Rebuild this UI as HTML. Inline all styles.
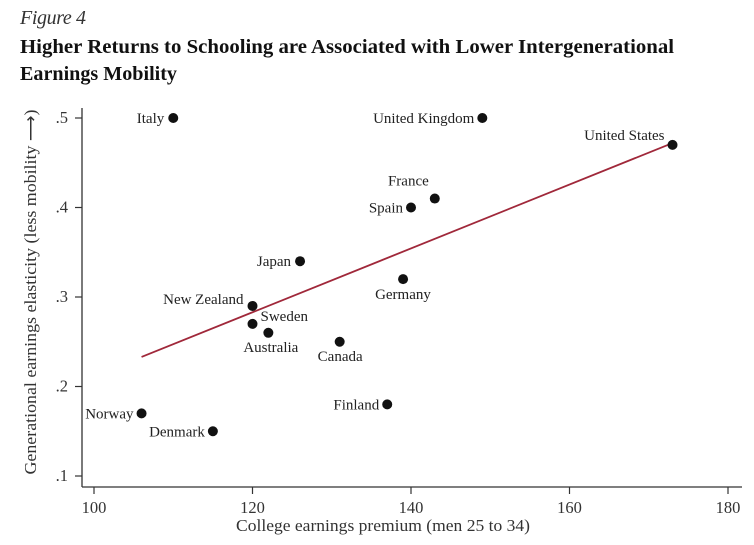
<!DOCTYPE html>
<html><head><meta charset="utf-8"><style>
html,body{margin:0;padding:0;background:#fff;}
svg{display:block;font-family:"Liberation Serif",serif;}
</style></head><body>
<svg width="754" height="545" viewBox="0 0 754 545">
<text x="20" y="24" font-size="20" font-style="italic" fill="#333" textLength="66">Figure 4</text>
<text x="20" y="53" font-size="20" font-weight="bold" fill="#111" textLength="654" lengthAdjust="spacingAndGlyphs">Higher Returns to Schooling are Associated with Lower Intergenerational</text>
<text x="20" y="80" font-size="20" font-weight="bold" fill="#111" textLength="157" lengthAdjust="spacingAndGlyphs">Earnings Mobility</text>
<g id="axes"></g>
<g id="marks"></g>
<text x="383" y="531" font-size="16.5" text-anchor="middle" fill="#333" textLength="294" lengthAdjust="spacingAndGlyphs">College earnings premium (men 25 to 34)</text>
<text transform="translate(36,292) rotate(-90)" font-size="16.5" text-anchor="middle" fill="#333" textLength="365" lengthAdjust="spacingAndGlyphs">Generational earnings elasticity (less mobility ⟶)</text>
</svg>
<script>
const countries=["Italy","United Kingdom","United States","France","Spain","Japan","Germany","New Zealand","Sweden","Australia","Canada","Finland","Norway","Denmark"];
const premium=[110,149,173,143,140,126,139,120,120,122,131,137,106,115];
const elasticity=[0.50,0.50,0.47,0.41,0.40,0.34,0.32,0.29,0.27,0.26,0.25,0.18,0.17,0.15];
const xTicks=[100,120,140,160,180];
const yTicks=[0.1,0.2,0.3,0.4,0.5];
const yTickLabels=[".1",".2",".3",".4",".5"];
const fitX=[106,173];
const fitY=[0.233,0.472];
const labelPos={"Italy":[-9,5,"end"],"United Kingdom":[-8,5,"end"],"United States":[-8,-5,"end"],"France":[-6,-13,"end"],"Spain":[-8,5,"end"],"Japan":[-9,5,"end"],"Germany":[-28,20,"start"],"New Zealand":[-9,-2,"end"],"Sweden":[8,-3,"start"],"Australia":[-25,19,"start"],"Canada":[-22,19,"start"],"Finland":[-8,5,"end"],"Norway":[-8,5,"end"],"Denmark":[-8,5,"end"]};
const NS="http://www.w3.org/2000/svg";
const X=v=>94+(v-100)*7.925;
const Y=v=>476-(v-0.1)*895;
function mk(tag,attrs,parent,text){const e=document.createElementNS(NS,tag);for(const k in attrs)e.setAttribute(k,attrs[k]);if(text!==undefined)e.textContent=text;parent.appendChild(e);return e;}
const ax=document.getElementById('axes'),mg=document.getElementById('marks');
let l=mk('line',{x1:82,y1:108,x2:82,y2:487,stroke:'#333','stroke-width':1.3},ax);


l=mk('line',{x1:82,y1:487,x2:742,y2:487,stroke:'#333','stroke-width':1.3},ax);


xTicks.forEach(v=>{const t=mk('line',{x1:X(v),y1:487,x2:X(v),y2:494,stroke:'#333','stroke-width':1.2},ax);


const tx=mk('text',{x:X(v),y:513,'font-size':16.5,'text-anchor':'middle',fill:'#333'},ax,String(v));

});
yTicks.forEach((v,i)=>{const t=mk('line',{x1:75,y1:Y(v),x2:82,y2:Y(v),stroke:'#333','stroke-width':1.2},ax);


const tx=mk('text',{x:68,y:Y(v)+5,'font-size':16.5,'text-anchor':'end',fill:'#333'},ax,yTickLabels[i]);

});
const fl=mk('line',{x1:X(fitX[0]),y1:Y(fitY[0]),x2:X(fitX[1]),y2:Y(fitY[1]),stroke:'#a0283a','stroke-width':1.8},mg);


countries.forEach((c,i)=>{const cx=X(premium[i]),cy=Y(elasticity[i]);
const p=mk('circle',{cx:cx,cy:cy,r:5,fill:'#111'},mg);


const lp=labelPos[c];
const t=mk('text',{x:cx+lp[0],y:cy+lp[1],'font-size':15,'text-anchor':lp[2],fill:'#222'},mg,c);

});
</script>
</body></html>
